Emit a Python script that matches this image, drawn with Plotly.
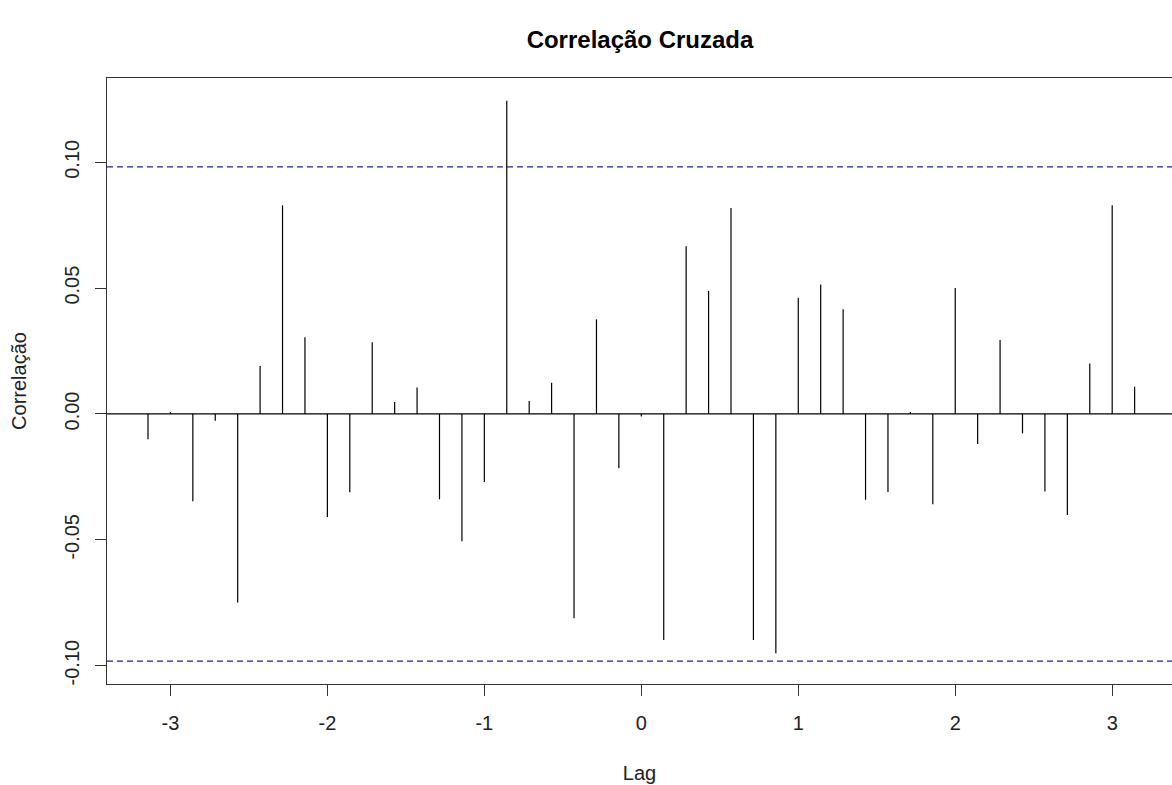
import plotly.graph_objects as go

# Lags (in seasonal units, k/7)
lags = [-3.142857, -3.0, -2.857143, -2.714286, -2.571429, -2.428571, -2.285714, -2.142857,
        -2.0, -1.857143, -1.714286, -1.571429, -1.428571, -1.285714, -1.142857, -1.0,
        -0.857143, -0.714286, -0.571429, -0.428571, -0.285714, -0.142857, 0.0,
        0.142857, 0.285714, 0.428571, 0.571429, 0.714286, 0.857143, 1.0,
        1.142857, 1.285714, 1.428571, 1.571429, 1.714286, 1.857143, 2.0,
        2.142857, 2.285714, 2.428571, 2.571429, 2.714286, 2.857143, 3.0, 3.142857]

correlacao = [-0.0100, 0.0007, -0.0347, -0.0027, -0.0749, 0.0191, 0.0829, 0.0305,
              -0.0409, -0.0311, 0.0285, 0.0048, 0.0105, -0.0339, -0.0506, -0.0270,
              0.1245, 0.0052, 0.0124, -0.0812, 0.0376, -0.0216, -0.0010,
              -0.0898, 0.0666, 0.0489, 0.0818, -0.0898, -0.0951, 0.0462,
              0.0514, 0.0416, -0.0341, -0.0310, 0.0008, -0.0359, 0.0501,
              -0.0119, 0.0294, -0.0077, -0.0308, -0.0401, 0.0201, 0.0829, 0.0108]

conf_limit = 0.0982

x_ticks = [-3, -2, -1, 0, 1, 2, 3]
x_tick_labels = ["-3", "-2", "-1", "0", "1", "2", "3"]
y_ticks = [-0.10, -0.05, 0.0, 0.05, 0.10]
y_tick_labels = ["-0.10", "-0.05", "0.00", "0.05", "0.10"]

title_text = "Correlação Cruzada"
x_title = "Lag"
y_title = "Correlação"

FONT = "Liberation Sans, Arial, sans-serif"

# build vertical segments
seg_x, seg_y = [], []
for lx, v in zip(lags, correlacao):
    seg_x += [lx, lx, None]
    seg_y += [0, v, None]

x_range = [-3.404, 3.381]
y_range = [-0.1073, 0.1335]

fig = go.Figure()
fig.add_trace(go.Scatter(x=seg_x, y=seg_y, mode="lines",
                         line=dict(color="black", width=1.2),
                         hoverinfo="skip", showlegend=False))
fig.add_trace(go.Scatter(x=x_range, y=[0, 0], mode="lines",
                         line=dict(color="black", width=1.2),
                         hoverinfo="skip", showlegend=False))
for c in (conf_limit, -conf_limit):
    fig.add_trace(go.Scatter(x=x_range, y=[c, c], mode="lines",
                             line=dict(color="#22229a", width=1.2, dash="6px,4px"),
                             hoverinfo="skip", showlegend=False))

fig.update_layout(
    width=1172, height=785, autosize=False,
    margin=dict(l=107, r=0, t=78, b=101),
    paper_bgcolor="white", plot_bgcolor="white",
    title=dict(text="<b>" + title_text + "</b>", x=640 / 1172, xanchor="center",
               y=1 - 40 / 785, yanchor="middle",
               font=dict(family=FONT, size=24, color="black")),
    font=dict(family=FONT, size=20, color="#222222"),
)
fig.update_xaxes(range=x_range, showgrid=False, zeroline=False,
                 showline=True, linecolor="#333333", linewidth=1.3, mirror=True,
                 ticks="outside", ticklen=11, tickcolor="#333333", tickwidth=1.2,
                 tickvals=x_ticks, ticktext=x_tick_labels,
                 tickfont=dict(family=FONT, size=20, color="#222222"),
                 ticklabelstandoff=10,
                 title=dict(text=x_title, standoff=32,
                            font=dict(family=FONT, size=20, color="#222222")))
fig.update_yaxes(range=y_range, showgrid=False, zeroline=False,
                 showline=True, linecolor="#333333", linewidth=1.3, mirror=False,
                 ticks="outside", ticklen=11, tickcolor="#333333", tickwidth=1.2,
                 tickvals=y_ticks, ticktext=y_tick_labels, tickangle=-90,
                 tickfont=dict(family=FONT, size=20, color="#222222"),
                 ticklabelstandoff=8,
                 title=dict(text=y_title, standoff=28,
                            font=dict(family=FONT, size=20, color="#222222")))

fig.write_html("out.html")
